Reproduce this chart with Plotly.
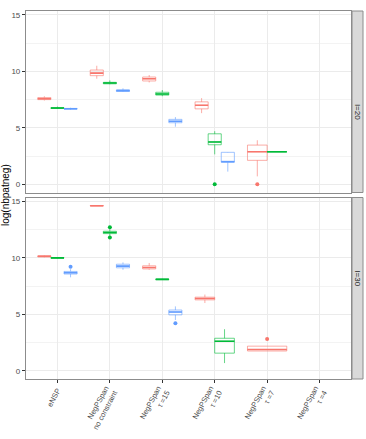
import plotly.graph_objects as go

# categories on the x axis
categories = ["eNSP", "NegPSpan<br>no constraint", "NegPSpan<br>τ =15",
              "NegPSpan<br>τ =10", "NegPSpan<br>τ =7", "NegPSpan<br>τ =4"]
panels = ["l=20", "l=30"]
colors = ["#F8766D", "#00BA38", "#619CFF"]

# box stats per category: (lower whisker, q1, median, q3, upper whisker); None = no box
top_red = [(7.42, 7.5, 7.58, 7.68, 7.8), (9.35, 9.62, 9.85, 10.12, 10.5), (9.02, 9.15, 9.35, 9.5, 9.68),
           (6.3, 6.68, 7.0, 7.3, 7.63), (0.7, 2.12, 2.88, 3.47, 3.9), None]
top_green = [(6.7, 6.72, 6.75, 6.78, 6.88), (8.86, 8.9, 8.97, 9.03, 9.2), (7.8, 7.9, 8.0, 8.15, 8.35),
             (2.65, 3.5, 3.75, 4.47, 4.7), (2.88, 2.88, 2.88, 2.88, 2.88), None]
top_blue = [(6.6, 6.66, 6.69, 6.72, 6.78), (8.18, 8.22, 8.3, 8.36, 8.5), (5.1, 5.45, 5.58, 5.75, 5.95),
            (1.12, 1.95, 2.0, 2.83, 2.85), None, None]

bot_red = [(10.05, 10.08, 10.14, 10.18, 10.22), (14.6, 14.6, 14.62, 14.64, 14.64), (8.95, 9.02, 9.15, 9.3, 9.55),
           (6.0, 6.28, 6.4, 6.52, 6.75), (1.75, 1.75, 1.88, 2.18, 2.18), None]
bot_green = [(9.96, 9.98, 10.0, 10.03, 10.04), (11.95, 12.15, 12.25, 12.36, 12.55), (8.05, 8.07, 8.1, 8.13, 8.15),
             (0.68, 1.56, 2.62, 2.88, 3.68), None, None]
bot_blue = [(8.28, 8.57, 8.68, 8.8, 9.0), (8.95, 9.12, 9.27, 9.44, 9.6), (4.5, 4.95, 5.2, 5.38, 5.7),
            None, None, None]

# outliers: (group index, category index, value)
top_outliers = [(0, 4, 0.0), (1, 3, 0.0)]
bot_outliers = [(2, 0, 9.21), (1, 1, 12.72), (1, 1, 11.8), (2, 2, 4.2), (0, 4, 2.82)]

data = {
    0: ([top_red, top_green, top_blue], top_outliers),
    1: ([bot_red, bot_green, bot_blue], bot_outliers),
}


def rgba(hexc, a):
    h = hexc.lstrip("#")
    return f"rgba({int(h[0:2], 16)},{int(h[2:4], 16)},{int(h[4:6], 16)},{a})"


fig = go.Figure()

for p, (groups, outliers) in data.items():
    xa = "x" if p == 0 else "x2"
    ya = "y" if p == 0 else "y2"
    centers = {}
    for ci in range(len(categories)):
        present = [g for g in range(3) if groups[g][ci] is not None]
        n = len(present)
        for k, g in enumerate(present):
            w = 0.75 / max(n, 1)
            centers[(g, ci)] = (ci + 1 - 0.375 + w * (k + 0.5), w)
    for g in range(3):
        for ci, st in enumerate(groups[g]):
            if st is None:
                continue
            cx, w = centers[(g, ci)]
            lf, q1, med, q3, uf = st
            fig.add_trace(go.Box(
                x=[cx], lowerfence=[lf], q1=[q1], median=[med], q3=[q3], upperfence=[uf],
                width=w, whiskerwidth=0, fillcolor="rgba(255,255,255,0)",
                line=dict(color=rgba(colors[g], 0.6), width=1),
                xaxis=xa, yaxis=ya, showlegend=False, hoverinfo="skip"))
            # thicker median line
            fig.add_trace(go.Box(
                x=[cx], lowerfence=[med], q1=[med], median=[med], q3=[med], upperfence=[med],
                width=w, whiskerwidth=0, fillcolor="rgba(0,0,0,0)",
                line=dict(color=colors[g], width=1.6),
                xaxis=xa, yaxis=ya, showlegend=False, hoverinfo="skip"))
    for g, ci, v in outliers:
        cx, w = centers[(g, ci)]
        fig.add_trace(go.Scatter(
            x=[cx], y=[v], mode="markers", marker=dict(color=colors[g], size=4),
            xaxis=xa, yaxis=ya, showlegend=False, hoverinfo="skip"))

# layout geometry
W, H = 366, 439
ml, mr, mt, mb = 26, 2, 11, 60
pw, ph = W - ml - mr, H - mt - mb
xr = (351 - ml) / pw
top_dom = [(379 - 192.5) / ph, 1]
bot_dom = [0, (379 - 197.5) / ph]

axis_common = dict(
    showline=True, mirror=True, linecolor="#8c8c8c", linewidth=1.2,
    gridcolor="#ebebeb", gridwidth=1, zeroline=False,
)
yaxis_common = dict(
    axis_common, range=[-0.73, 15.35], tickvals=[0, 5, 10, 15],
    ticks="outside", ticklen=3, tickcolor="#333333",
    tickfont=dict(size=8, color="#4d4d4d"), automargin=False,
    minor=dict(tickvals=[2.5, 7.5, 12.5], showgrid=True, gridcolor="#f3f3f3", ticks=""),
)
xaxis_common = dict(
    axis_common, range=[0.4, 6.6], tickvals=list(range(1, 7)),
    domain=[0, xr],
)

fig.update_layout(
    width=W, height=H,
    margin=dict(l=ml, r=mr, t=mt, b=mb),
    paper_bgcolor="white", plot_bgcolor="white",
    font=dict(family="Liberation Sans, Arial, sans-serif", color="#4d4d4d"),
    boxmode="overlay",
    xaxis=dict(xaxis_common, anchor="y", showticklabels=False, ticks=""),
    yaxis=dict(yaxis_common, domain=top_dom, anchor="x"),
    xaxis2=dict(xaxis_common, anchor="y2", ticktext=categories, tickangle=-62,
                ticks="outside", ticklen=3, tickcolor="#333333",
                tickfont=dict(size=7.5, color="#4d4d4d"), automargin=False),
    yaxis2=dict(yaxis_common, domain=bot_dom, anchor="x2"),
)

# facet strips
for dom, label in zip([top_dom, bot_dom], panels):
    fig.add_shape(type="rect", xref="paper", yref="paper",
                  x0=xr + 1 / pw, x1=1.0 - 1 / pw, y0=dom[0], y1=dom[1],
                  fillcolor="#d9d9d9", line=dict(color="#8c8c8c", width=1))
    fig.add_annotation(xref="paper", yref="paper", x=(357.5 - ml) / pw, xanchor="center",
                       y=(dom[0] + dom[1]) / 2,
                       text=label, textangle=90, showarrow=False,
                       font=dict(size=8, color="#1a1a1a"))

fig.add_annotation(xref="paper", yref="paper", x=(5 - ml) / pw, y=(379 - 195) / ph,
                   xanchor="center", yanchor="middle",
                   text="log(nbpatneg)", textangle=-90, showarrow=False,
                   font=dict(size=10, color="#000000"))

fig.write_html("out.html", config={"displayModeBar": False},
               post_script="document.body.style.margin='0';")
